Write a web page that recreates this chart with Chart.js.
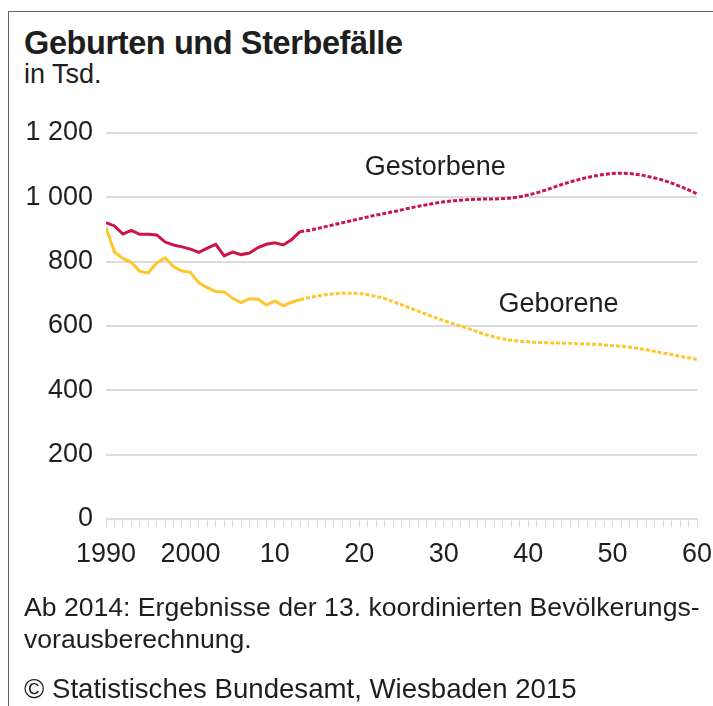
<!DOCTYPE html>
<html lang="de">
<head>
  <meta charset="UTF-8">
  <title>Geburten und Sterbefälle</title>
  <script src="https://cdn.jsdelivr.net/npm/chart.js"></script>
  <style>
    html, body { margin: 0; padding: 0; background: #fff; }
    #page { position: relative; width: 713px; height: 706px; overflow: hidden; font-family: "Liberation Sans", Arial, sans-serif; color: #1e1e1e; }
    #frame { position: absolute; left: 8px; top: 11px; right: -2px; bottom: -2px; border-left: 1px solid #666; border-top: 1px solid #666; }
    #chart { position: absolute; left: 0; top: 0; }
    .txt { position: absolute; left: 24px; white-space: nowrap; }
    #title { top: 25px; font-size: 32.5px; font-weight: bold; letter-spacing: -0.4px; }
    #unit { top: 59px; font-size: 27px; }
    #note1 { top: 592px; font-size: 26.6px; }
    #note2 { top: 624px; font-size: 26.6px; }
    #source { top: 673px; font-size: 27.6px; }
  </style>
</head>
<body>
  <div id="page">
    <div id="frame"></div>
    <div class="txt" id="title">Geburten und Sterbefälle</div>
    <div class="txt" id="unit">in Tsd.</div>
    <canvas id="chart" width="713" height="706"></canvas>
    <div class="txt" id="note1">Ab 2014: Ergebnisse der 13. koordinierten Bevölkerungs-</div>
    <div class="txt" id="note2">vorausberechnung.</div>
    <div class="txt" id="source">© Statistisches Bundesamt, Wiesbaden 2015</div>
  </div>
  <script>
    // years 1990-2013 (observed), 2013-2060 (projection)
    const histYears = [1990, 1991, 1992, 1993, 1994, 1995, 1996, 1997, 1998, 1999, 2000, 2001,
      2002, 2003, 2004, 2005, 2006, 2007, 2008, 2009, 2010, 2011, 2012, 2013]
    const deathsHist = [921, 911, 886, 897, 885, 885, 883, 861, 852, 846, 839, 829,
      842, 854, 818, 830, 822, 827, 844, 854, 859, 852, 869, 894]
    const birthsHist = [906, 830, 810, 798, 770, 765, 796, 812, 785, 771, 767, 734,
      719, 707, 706, 686, 673, 685, 683, 665, 678, 663, 674, 682]

    const projYears = [2013, 2014, 2015, 2016, 2017, 2018, 2019, 2020, 2021, 2022, 2023, 2024,
      2025, 2026, 2027, 2028, 2029, 2030, 2031, 2032, 2033, 2034, 2035, 2036,
      2037, 2038, 2039, 2040, 2041, 2042, 2043, 2044, 2045, 2046, 2047, 2048,
      2049, 2050, 2051, 2052, 2053, 2054, 2055, 2056, 2057, 2058, 2059, 2060]
    const deathsProj = [894, 897, 903, 909, 915, 921, 927, 933, 939, 945, 950, 955,
      961, 967, 972, 977, 982, 986, 989, 991, 993, 994, 995, 995,
      996, 998, 1002, 1007, 1014, 1022, 1031, 1040, 1048, 1055, 1062, 1067,
      1071, 1074, 1075, 1074, 1071, 1066, 1060, 1053, 1044, 1034, 1023, 1011]
    const birthsProj = [682, 688, 693, 697, 700, 702, 702, 701, 697, 692, 685, 676,
      666, 656, 646, 636, 626, 617, 608, 600, 591, 582, 573, 566,
      560, 556, 553, 551, 549, 548, 547, 547, 546, 545, 544, 543,
      541, 539, 537, 534, 530, 526, 521, 516, 511, 506, 501, 496]

    const yTicks = [0, 200, 400, 600, 800, 1000, 1200]

    const red = '#cc1448'
    const yellow = '#ffc52a'

    const pts = (xs, ys) => xs.map((x, i) => ({ x: x, y: ys[i] }))

    const lineLabels = {
      id: 'lineLabels',
      afterDatasetsDraw(chart) {
        const { ctx, scales: { x, y } } = chart
        ctx.save()
        ctx.font = '27px "Liberation Sans", Arial, sans-serif'
        ctx.fillStyle = '#1e1e1e'
        ctx.textAlign = 'center'
        ctx.textBaseline = 'middle'
        ctx.fillText('Gestorbene', x.getPixelForValue(2029), y.getPixelForValue(1094))
        ctx.fillText('Geborene', x.getPixelForValue(2043.6), y.getPixelForValue(668))
        ctx.restore()
      }
    }

    const tickFont = { family: '"Liberation Sans", Arial, sans-serif', size: 27 }

    new Chart(document.getElementById('chart').getContext('2d'), {
      type: 'line',
      data: {
        datasets: [
          { data: pts(histYears, deathsHist), borderColor: red, borderWidth: 3, tension: 0 },
          { data: pts(projYears, deathsProj), borderColor: red, borderWidth: 3, borderDash: [4, 2], cubicInterpolationMode: 'monotone' },
          { data: pts(histYears, birthsHist), borderColor: yellow, borderWidth: 3, tension: 0 },
          { data: pts(projYears, birthsProj), borderColor: yellow, borderWidth: 3, borderDash: [4, 2], cubicInterpolationMode: 'monotone' }
        ]
      },
      options: {
        responsive: false,
        animation: false,
        layout: { padding: { left: 0, top: 133, right: 0, bottom: 0 } },
        elements: { point: { radius: 0 }, line: { borderCapStyle: 'butt' } },
        plugins: { legend: { display: false }, tooltip: { enabled: false } },
        scales: {
          x: {
            type: 'linear',
            min: 1990,
            max: 2060,
            afterFit: (s) => { s.height = 187; s.paddingRight = 16 },
            border: { display: false },
            grid: { drawOnChartArea: false, tickLength: 8, color: '#d9d9d9', lineWidth: 1 },
            ticks: {
              stepSize: 1,
              autoSkip: false,
              maxRotation: 0,
              padding: 11,
              color: '#1e1e1e',
              font: tickFont,
              callback: (v) => v % 10 === 0 ? (v <= 2000 ? String(v) : String(v % 100)) : ''
            }
          },
          y: {
            min: 0,
            max: 1200,
            afterFit: (s) => { s.width = 106 },
            afterBuildTicks: (s) => { s.ticks = yTicks.map(v => ({ value: v })) },
            border: { display: false },
            grid: { drawTicks: false, color: '#dcdcdc', lineWidth: 2 },
            ticks: {
              padding: 13,
              color: '#1e1e1e',
              font: tickFont,
              callback: (v) => v >= 1000 ? '1 ' + String(v % 1000).padStart(3, '0') : String(v)
            }
          }
        }
      },
      plugins: [lineLabels]
    })
  </script>
</body>
</html>
